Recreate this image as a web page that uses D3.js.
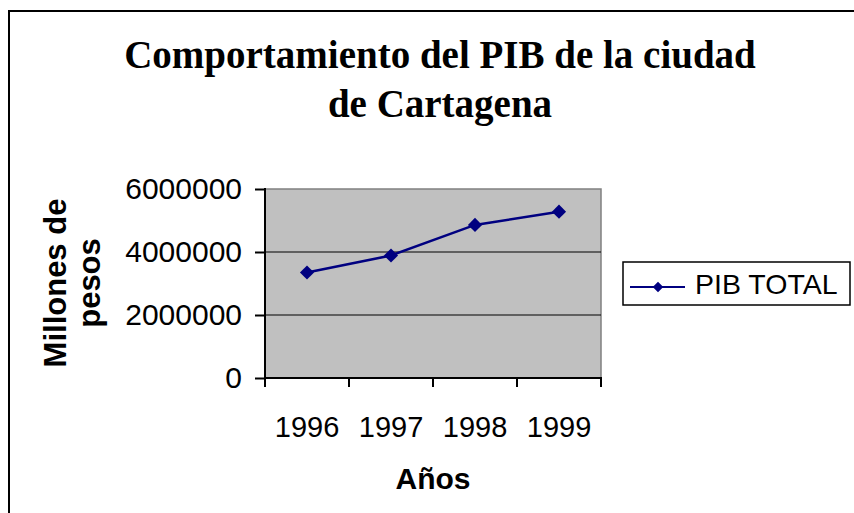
<!DOCTYPE html>
<html>
<head>
<meta charset="utf-8">
<script src="https://cdn.jsdelivr.net/npm/d3@7.9.0/dist/d3.min.js"></script>
<style>
  html, body { margin: 0; padding: 0; background: #fff; overflow: hidden; }
  svg { display: block; }
</style>
</head>
<body>
<div id="chart"></div>
<script>
// values
const years = ['1996', '1997', '1998', '1999'];
const pibTotal = [3350000, 3890000, 4860000, 5280000];
const yTicks = [0, 2000000, 4000000, 6000000];
const titleLines = ['Comportamiento del PIB de la ciudad', 'de Cartagena'];
const yTitleLines = ['Millones de', 'pesos'];
const xTitle = 'Años';
const seriesName = 'PIB TOTAL';

const width = 854, height = 513;
const plot = { left: 265, right: 601, top: 189, bottom: 378 };
const sans = 'Arial, "Liberation Sans", sans-serif';
const serif = '"Times New Roman", "Liberation Serif", serif';
const navy = '#000080';

const svg = d3.select('#chart').append('svg')
  .attr('width', width)
  .attr('height', height);

svg.append('rect').attr('width', width).attr('height', height).attr('fill', '#fff');

// outer chart border (runs off the right and bottom edges)
svg.append('rect')
  .attr('x', 9).attr('y', 11)
  .attr('width', 900).attr('height', 600)
  .attr('fill', 'none').attr('stroke', '#000').attr('stroke-width', 2);

// title
svg.append('text')
  .attr('x', 440)
  .attr('font-family', serif)
  .attr('font-weight', 'bold')
  .attr('font-size', 39)
  .attr('text-anchor', 'middle')
  .selectAll('tspan')
  .data(titleLines)
  .join('tspan')
  .attr('x', 440)
  .attr('y', (d, i) => 68 + i * 49)
  .text(d => d);

const x = d3.scaleBand().domain(years).range([plot.left, plot.right]);
const y = d3.scaleLinear().domain([0, 6000000]).range([plot.bottom, plot.top]);

// plot area
svg.append('rect')
  .attr('x', plot.left).attr('y', plot.top)
  .attr('width', plot.right - plot.left).attr('height', plot.bottom - plot.top)
  .attr('fill', '#c0c0c0')
  .attr('stroke', '#808080').attr('stroke-width', 1.5);

// gridlines
svg.append('g')
  .selectAll('line')
  .data(yTicks.filter(v => v > 0 && v < 6000000))
  .join('line')
  .attr('x1', plot.left).attr('x2', plot.right)
  .attr('y1', d => y(d)).attr('y2', d => y(d))
  .attr('stroke', '#000').attr('stroke-width', 1);

// y axis
const yAxis = svg.append('g')
  .attr('transform', `translate(${plot.left},0)`)
  .call(d3.axisLeft(y).tickValues(yTicks).tickFormat(d3.format('d')).tickSize(10).tickPadding(13));
yAxis.select('.domain').remove();
yAxis.selectAll('.tick line').attr('stroke', '#000').attr('stroke-width', 2);
yAxis.selectAll('.tick text')
  .attr('font-family', sans).attr('font-size', 30).attr('fill', '#000');
svg.append('line')
  .attr('x1', plot.left).attr('x2', plot.left)
  .attr('y1', plot.top - 1).attr('y2', plot.bottom + 1)
  .attr('stroke', '#000').attr('stroke-width', 2);

// x axis
const xAxis = svg.append('g')
  .attr('transform', `translate(0,${plot.bottom})`)
  .call(d3.axisBottom(x).tickSize(0).tickPadding(38));
xAxis.select('.domain').remove();
xAxis.selectAll('.tick text')
  .attr('font-family', sans).attr('font-size', 29).attr('fill', '#000');
svg.append('g')
  .selectAll('line')
  .data(d3.range(years.length + 1))
  .join('line')
  .attr('x1', i => x.range()[0] + i * x.step())
  .attr('x2', i => x.range()[0] + i * x.step())
  .attr('y1', plot.bottom).attr('y2', plot.bottom + 9)
  .attr('stroke', '#000').attr('stroke-width', 2);
svg.append('line')
  .attr('x1', plot.left - 1).attr('x2', plot.right + 1)
  .attr('y1', plot.bottom).attr('y2', plot.bottom)
  .attr('stroke', '#000').attr('stroke-width', 2);

// axis titles
svg.append('text')
  .attr('x', 433).attr('y', 489)
  .attr('text-anchor', 'middle')
  .attr('font-family', sans).attr('font-weight', 'bold').attr('font-size', 30)
  .text(xTitle);

svg.append('g')
  .attr('transform', 'translate(0,283) rotate(-90)')
  .selectAll('text')
  .data(yTitleLines)
  .join('text')
  .attr('x', 0)
  .attr('y', (d, i) => 66 + i * 34)
  .attr('text-anchor', 'middle')
  .attr('font-family', sans).attr('font-weight', 'bold').attr('font-size', 31)
  .text(d => d);

// series
const pts = years.map((yr, i) => ({ year: yr, value: pibTotal[i] }));
const line = d3.line()
  .x(d => x(d.year) + x.bandwidth() / 2)
  .y(d => y(d.value));

svg.append('path')
  .datum(pts)
  .attr('d', line)
  .attr('fill', 'none')
  .attr('stroke', navy)
  .attr('stroke-width', 2.5);

const diamond = d3.symbol().type(d3.symbolSquare).size(100);
svg.append('g')
  .selectAll('path')
  .data(pts)
  .join('path')
  .attr('d', diamond)
  .attr('transform', d => `translate(${x(d.year) + x.bandwidth() / 2},${y(d.value)}) rotate(45)`)
  .attr('fill', navy);

// legend
const legend = svg.append('g');
legend.append('rect')
  .attr('x', 623).attr('y', 262)
  .attr('width', 227).attr('height', 43)
  .attr('fill', '#fff').attr('stroke', '#000').attr('stroke-width', 1.5);
legend.append('line')
  .attr('x1', 630).attr('x2', 685)
  .attr('y1', 287).attr('y2', 287)
  .attr('stroke', navy).attr('stroke-width', 2);
legend.append('path')
  .attr('d', d3.symbol().type(d3.symbolSquare).size(56)())
  .attr('transform', 'translate(658,287) rotate(45)')
  .attr('fill', navy);
legend.append('text')
  .attr('x', 695).attr('y', 294)
  .attr('font-family', sans).attr('font-size', 28.5).attr('fill', '#000')
  .text(seriesName);
</script>
</body>
</html>
